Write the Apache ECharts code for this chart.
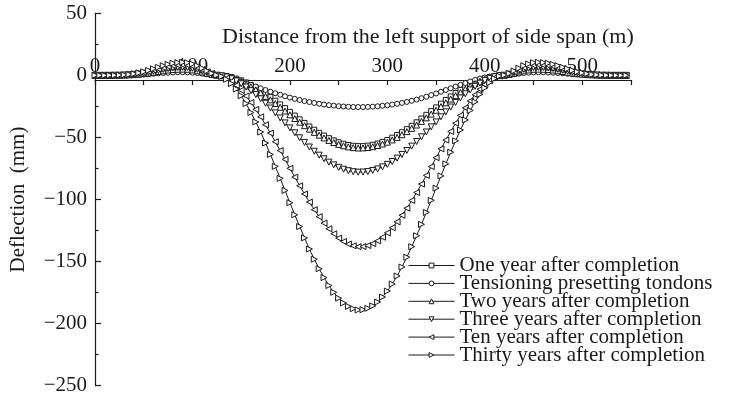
<!DOCTYPE html>
<html>
<head>
<meta charset="utf-8">
<script src="https://cdn.jsdelivr.net/npm/echarts@6/dist/echarts.min.js"></script>
<style>
  html, body { margin: 0; padding: 0; background: #fff; }
  #chart { width: 733px; height: 408px; }
</style>
</head>
<body>
<div id="chart"></div>
<script>
// Distance along the bridge (m)
const distance = [0,5,10,15,20,25,30,35,40,45,50,55,60,65,70,75,80,85,90,95,100,105,110,115,120,125,
  130,135,140,145,150,155,160,165,170,175,180,185,190,195,200,205,210,215,220,225,230,235,240,245,250,255,260,265,270,275,280,285,290,295,300,305,310,315,320,325,330,335,340,345,350,355,360,365,370,375,380,385,390,395,400,405,410,415,
  420,425,430,435,440,445,450,455,460,465,470,475,480,485,490,495,500,505,510,515,520,525,530,535,540,545];

// Deflection (mm) for each stage
const oneYear = [0,0,0,0,0,0.1,0.2,0.3,0.5,0.9,1.3,1.7,2.3,2.8,3.3,3.8,4.2,4.4,4.5,4.4,4.0,3.3,2.5,1.5,0.7,0.1,
  -0.2,-0.6,-1.4,-2.6,-4.0,-5.7,-7.7,-9.8,-12.2,-14.8,-17.5,-20.4,-23.4,-26.4,-29.4,-32.4,-35.4,-38.3,-41.2,-43.8,-46.3,-48.5,-50.6,-52.4,-53.9,-55.1,-56.1,-56.7,-57.0,-57.0,-56.6,-55.9,-54.9,-53.6,-52.0,-50.2,-48.1,-45.8,-43.3,-40.6,-37.8,-34.8,-31.8,-28.8,-25.8,-22.8,-19.8,-17.0,-14.3,-11.7,-9.4,-7.2,-5.3,-3.7,-2.3,-1.3,-0.5,-0.1,
  0.1,0.7,1.5,2.5,3.3,4.0,4.4,4.5,4.4,4.2,3.8,3.3,2.8,2.3,1.7,1.3,0.9,0.5,0.3,0.2,0.1,0,0,0,0,0];

const tensioning = [0,0,0,0,0,0.1,0.1,0.2,0.3,0.5,0.7,1.0,1.3,1.6,1.9,2.1,2.3,2.5,2.5,2.4,2.2,1.9,1.4,0.9,0.4,0.1,
  -0.5,-1.3,-2.3,-3.5,-4.8,-6.2,-7.6,-9.0,-10.4,-11.8,-13.1,-14.4,-15.6,-16.8,-17.9,-18.9,-19.8,-20.7,-21.5,-22.2,-22.9,-23.5,-24.0,-24.4,-24.8,-25.1,-25.3,-25.5,-25.5,-25.5,-25.4,-25.2,-24.9,-24.5,-24.1,-23.5,-22.9,-22.2,-21.4,-20.5,-19.5,-18.4,-17.2,-15.9,-14.6,-13.2,-11.8,-10.4,-9.0,-7.6,-6.2,-4.9,-3.7,-2.6,-1.7,-0.9,-0.4,-0.1,
  0.1,0.4,0.9,1.4,1.9,2.2,2.4,2.5,2.5,2.3,2.1,1.9,1.6,1.3,1.0,0.7,0.5,0.3,0.2,0.1,0.1,0,0,0,0,0];

const twoYears = [0,0,0,0,0.1,0.1,0.2,0.4,0.6,1.0,1.4,1.9,2.5,3.1,3.7,4.3,4.7,4.9,5.0,4.9,4.4,3.7,2.8,1.7,0.8,0.1,
  -0.3,-1.0,-2.0,-3.4,-5.1,-7.0,-9.2,-11.6,-14.2,-16.9,-19.7,-22.7,-25.7,-28.7,-31.8,-34.8,-37.7,-40.5,-43.3,-45.9,-48.2,-50.4,-52.4,-54.1,-55.6,-56.7,-57.6,-58.2,-58.5,-58.4,-58.1,-57.5,-56.5,-55.3,-53.8,-52.0,-50.0,-47.8,-45.3,-42.7,-40.0,-37.1,-34.2,-31.2,-28.1,-25.1,-22.1,-19.1,-16.3,-13.6,-11.1,-8.8,-6.6,-4.8,-3.1,-1.8,-0.8,-0.2,
  0.1,0.8,1.7,2.8,3.7,4.4,4.9,5.0,4.9,4.7,4.3,3.7,3.1,2.5,1.9,1.4,1.0,0.6,0.4,0.2,0.1,0.1,0,0,0,0];

const threeYears = [0,0,0,0,0.1,0.1,0.3,0.5,0.8,1.2,1.8,2.5,3.3,4.0,4.8,5.5,6.0,6.4,6.5,6.3,5.7,4.8,3.6,2.2,1.0,0.1,
  -0.4,-1.3,-2.7,-4.5,-6.8,-9.4,-12.3,-15.5,-18.9,-22.5,-26.3,-30.2,-34.3,-38.3,-42.3,-46.3,-50.3,-54.0,-57.7,-61.1,-64.3,-67.2,-69.9,-72.1,-74.1,-75.6,-76.8,-77.6,-78.0,-77.9,-77.5,-76.6,-75.4,-73.7,-71.7,-69.4,-66.7,-63.7,-60.5,-57.0,-53.3,-49.5,-45.6,-41.5,-37.5,-33.4,-29.4,-25.5,-21.8,-18.2,-14.8,-11.7,-8.8,-6.3,-4.2,-2.4,-1.1,-0.3,
  0.1,1.0,2.2,3.6,4.8,5.7,6.3,6.5,6.4,6.0,5.5,4.8,4.0,3.3,2.5,1.8,1.2,0.8,0.5,0.3,0.1,0.1,0,0,0,0];

const tenYears = [0,0,0,0,0.1,0.2,0.3,0.6,1.0,1.6,2.4,3.2,4.3,5.3,6.3,7.2,7.9,8.3,8.5,8.2,7.5,6.3,4.7,2.9,1.3,0.2,
  -0.7,-2.3,-4.8,-8.0,-12.0,-16.6,-21.8,-27.4,-33.4,-39.8,-46.5,-53.5,-60.6,-67.7,-74.9,-82.0,-88.9,-95.6,-102.1,-108.2,-113.8,-119.0,-123.6,-127.6,-131.1,-133.8,-135.9,-137.3,-138.0,-137.9,-137.1,-135.6,-133.3,-130.4,-126.9,-122.7,-118.0,-112.7,-107.0,-100.8,-94.4,-87.6,-80.6,-73.5,-66.3,-59.2,-52.1,-45.2,-38.5,-32.2,-26.2,-20.6,-15.6,-11.2,-7.4,-4.3,-1.9,-0.5,
  0.2,1.3,2.9,4.7,6.3,7.5,8.2,8.5,8.3,7.9,7.2,6.3,5.3,4.3,3.2,2.4,1.6,1.0,0.6,0.3,0.2,0.1,0,0,0,0];

const thirtyYears = [0,0,0,0.1,0.1,0.2,0.4,0.7,1.3,2.0,2.9,4.0,5.3,6.5,7.8,8.9,9.8,10.3,10.5,10.2,9.2,7.8,5.8,3.6,1.6,0.2,
  -0.9,-3.2,-6.6,-11.0,-16.4,-22.7,-29.9,-37.5,-45.7,-54.5,-63.7,-73.3,-83.0,-92.7,-102.6,-112.3,-121.8,-130.9,-139.9,-148.1,-155.8,-162.9,-169.3,-174.8,-179.5,-183.3,-186.1,-188.0,-189.0,-188.8,-187.7,-185.7,-182.6,-178.6,-173.8,-168.1,-161.6,-154.4,-146.5,-138.0,-129.2,-120.0,-110.4,-100.7,-90.8,-81.0,-71.3,-61.9,-52.7,-44.0,-35.9,-28.3,-21.4,-15.3,-10.1,-5.8,-2.6,-0.6,
  0.2,1.6,3.6,5.8,7.8,9.2,10.2,10.5,10.3,9.8,8.9,7.8,6.5,5.3,4.0,2.9,2.0,1.3,0.7,0.4,0.2,0.1,0.1,0,0,0];

const seriesNames = [
  'One year after completion',
  'Tensioning presetting tondons',
  'Two years after completion',
  'Three years after completion',
  'Ten years after completion',
  'Thirty years after completion'
];
const seriesValues = [oneYear, tensioning, twoYears, threeYears, tenYears, thirtyYears];
const seriesSymbols = ['rect', 'circle', 'triangle', 'triangle', 'triangle', 'triangle'];
const seriesRotate = [0, 0, 0, 180, 90, -90];
const seriesSymbolSize = [5, 5, 6, 6, 6, 6];

const INK = '#1a1a1a';
const FONT = '"Liberation Serif", "Times New Roman", serif';

const fmtNum = v => (v < 0 ? '\u2212' + Math.abs(v) : String(v));

const chart = echarts.init(document.getElementById('chart'), null, { renderer: 'canvas' });

chart.setOption({
  animation: false,
  backgroundColor: '#fff',
  textStyle: { fontFamily: FONT, color: INK },
  title: {
    text: 'Distance from the left support of side span (m)',
    left: 222,
    top: 26,
    padding: 0,
    textStyle: { fontFamily: FONT, fontSize: 22, fontWeight: 'normal', color: INK }
  },
  grid: { left: 93.5, right: 102, top: 13.3, bottom: 22.3 },
  legend: {
    orient: 'vertical',
    left: 408,
    top: 255,
    padding: 0,
    itemWidth: 46,
    itemHeight: 6,
    itemGap: -3.1,
    data: seriesNames,
    itemStyle: { color: '#fff', borderColor: INK, borderWidth: 1 },
    lineStyle: { color: INK, width: 1 },
    textStyle: { fontFamily: FONT, fontSize: 21, color: INK }
  },
  xAxis: {
    type: 'value',
    min: 0,
    max: 550,
    interval: 50,
    position: 'top',
    offset: -66.7,
    axisLine: { onZero: false, lineStyle: { color: INK, width: 1.2 } },
    axisTick: { inside: true, length: 5, lineStyle: { color: INK, width: 1.2 } },
    axisLabel: {
      margin: 3,
      fontFamily: FONT, fontSize: 21, color: INK,
      formatter: v => (v % 100 === 0 ? fmtNum(v) : '')
    },
    splitLine: { show: false }
  },
  yAxis: {
    type: 'value',
    min: -250,
    max: 50,
    interval: 50,
    name: 'Deflection  (mm)',
    nameLocation: 'middle',
    nameGap: 66,
    nameTextStyle: { fontFamily: FONT, fontSize: 21, color: INK },
    axisLine: { show: true, lineStyle: { color: INK, width: 1.2 } },
    axisTick: { inside: true, length: 6, lineStyle: { color: INK, width: 1.2 } },
    minorTick: { show: true, splitNumber: 2, length: 3.5, lineStyle: { color: INK, width: 1.2 } },
    axisLabel: { margin: 8, fontFamily: FONT, fontSize: 21, color: INK, formatter: fmtNum },
    splitLine: { show: false }
  },
  series: seriesNames.map((name, k) => ({
    name: name,
    type: 'line',
    data: distance.map((d, i) => [d, seriesValues[k][i]]),
    symbol: seriesSymbols[k],
    symbolRotate: seriesRotate[k],
    symbolSize: seriesSymbolSize[k],
    showAllSymbol: true,
    clip: false,
    itemStyle: { color: '#fff', borderColor: INK, borderWidth: 1 },
    lineStyle: { color: INK, width: 1 }
  }))
});
</script>
</body>
</html>
